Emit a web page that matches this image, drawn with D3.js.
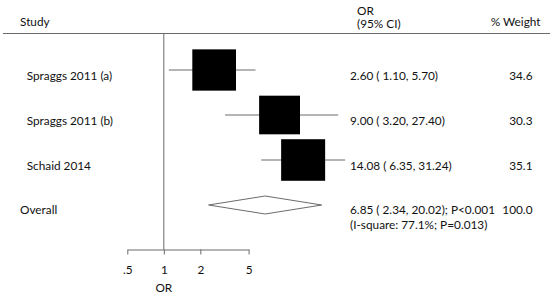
<!DOCTYPE html>
<html>
<head>
<meta charset="utf-8">
<script src="https://cdn.jsdelivr.net/npm/d3@7"></script>
<style>
  html, body { margin: 0; padding: 0; background: #fff; }
  svg text { font-family: Lato, 'Open Sans', sans-serif; font-size: 11.8px; fill: #111; }
</style>
</head>
<body>
<div id="chart"></div>
<script>
// forest plot: OR per study, log scale
const studies = ['Spraggs 2011 (a)', 'Spraggs 2011 (b)', 'Schaid 2014'];
const orEst = [2.60, 9.00, 14.08];
const ciLow = [1.10, 3.20, 6.35];
const ciHigh = [5.70, 27.40, 31.24];
const weights = [34.6, 30.3, 35.1];
const ciText = ['2.60 ( 1.10, 5.70)', '9.00 ( 3.20, 27.40)', '14.08 ( 6.35, 31.24)'];
const weightText = ['34.6', '30.3', '35.1'];

const overallEst = [6.85, 2.34, 20.02];   // OR, low, high
const overallText = ['6.85 ( 2.34, 20.02); P<0.001', '(I-square: 77.1%; P=0.013)'];
const overallWeight = '100.0';

const tickValues = [0.5, 1, 2, 5];
const tickLabels = ['.5', '1', '2', '5'];

const W = 553, H = 296;
const grey = '#6b6b6b';

const svg = d3.select('#chart').append('svg').attr('width', W).attr('height', H);

const x = d3.scaleLog().domain([0.5, 5]).range([127.3, 248.6]);
const y = d3.scalePoint().domain(d3.range(4)).range([70, 205]);
const side = d3.scaleSqrt().domain([0, 35.1]).range([0, 44]);
const axisY = 249.5;

// header
svg.append('text').attr('x', 20).attr('y', 26).text('Study');
svg.append('text').attr('x', 357).attr('y', 14.5).text('OR');
svg.append('text').attr('x', 357).attr('y', 28).text('(95% CI)');
svg.append('text').attr('x', 540.5).attr('y', 26).attr('text-anchor', 'end').text('% Weight');
svg.append('line').attr('x1', 3).attr('x2', 550).attr('y1', 33.5).attr('y2', 33.5)
  .attr('stroke', grey).attr('stroke-width', 1);

// null line
svg.append('line').attr('x1', x(1)).attr('x2', x(1)).attr('y1', 33.5).attr('y2', axisY)
  .attr('stroke', grey).attr('stroke-width', 1);

// CI lines
svg.selectAll('.ci').data(studies).enter().append('line')
  .attr('x1', (d, i) => x(ciLow[i])).attr('x2', (d, i) => x(ciHigh[i]))
  .attr('y1', (d, i) => y(i)).attr('y2', (d, i) => y(i))
  .attr('stroke', grey).attr('stroke-width', 1);

// weight boxes
svg.selectAll('.box').data(studies).enter().append('rect')
  .attr('x', (d, i) => x(orEst[i]) - side(weights[i]) / 2)
  .attr('y', (d, i) => y(i) - side(weights[i]) * 0.945 / 2)
  .attr('width', (d, i) => side(weights[i]))
  .attr('height', (d, i) => side(weights[i]) * 0.945)
  .attr('fill', '#000');

// overall diamond
const dy = y(3);
svg.append('path')
  .attr('d', `M${x(overallEst[1])},${dy} L${x(overallEst[0])},${dy - 9} L${x(overallEst[2])},${dy} L${x(overallEst[0])},${dy + 9} Z`)
  .attr('fill', '#fff').attr('stroke', grey).attr('stroke-width', 1);

// text columns
svg.selectAll('.lbl').data(studies).enter().append('text')
  .attr('x', 26.7).attr('y', (d, i) => y(i) + 9.5).text(d => d);
svg.selectAll('.ci-t').data(ciText).enter().append('text')
  .attr('x', 350).attr('y', (d, i) => y(i) + 9.5).text(d => d);
svg.selectAll('.wt').data(weightText).enter().append('text')
  .attr('x', 532.5).attr('y', (d, i) => y(i) + 9.5).attr('text-anchor', 'end').text(d => d);

svg.append('text').attr('x', 20).attr('y', dy + 9).text('Overall');
svg.selectAll('.ov').data(overallText).enter().append('text')
  .attr('x', 350).attr('y', (d, i) => dy + 9 + i * 15).text(d => d);
svg.append('text').attr('x', 532.5).attr('y', dy + 9).attr('text-anchor', 'end').text(overallWeight);

// axis
const ax = svg.append('g').attr('transform', `translate(0,${axisY})`)
  .call(d3.axisBottom(x).tickValues(tickValues).tickFormat((d, i) => tickLabels[i]).tickSize(5).tickSizeOuter(0));
ax.select('.domain').attr('stroke', grey);
ax.selectAll('.tick line').attr('stroke', grey);
ax.selectAll('.tick text').attr('y', 24.5).attr('dy', 0)
  .style('font-family', 'Lato, sans-serif').style('font-size', '11.8px').attr('fill', '#111');

svg.append('text').attr('x', x(1)).attr('y', 292).attr('text-anchor', 'middle').text('OR');
</script>
</body>
</html>
